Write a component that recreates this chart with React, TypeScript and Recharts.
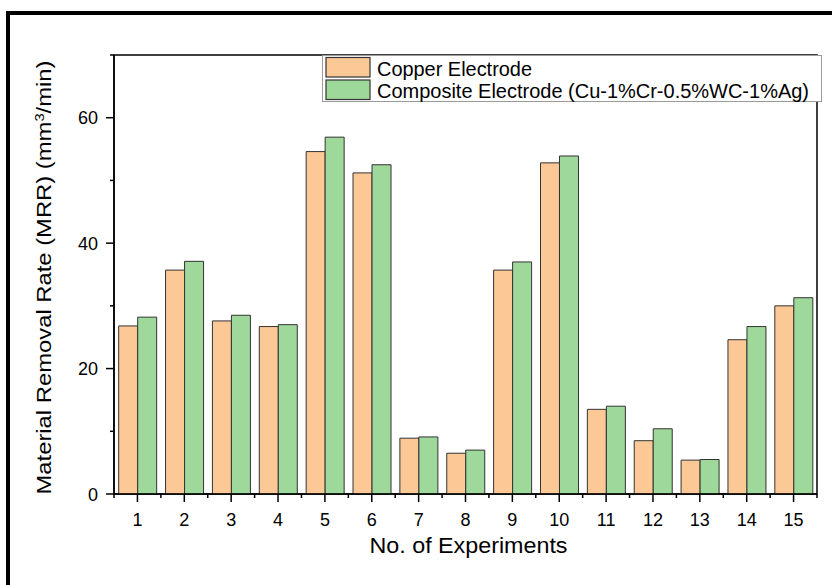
import React from 'react';
import { BarChart, Bar, XAxis, YAxis, Legend, ReferenceArea } from 'recharts';

const experiments = ['1', '2', '3', '4', '5', '6', '7', '8', '9', '10', '11', '12', '13', '14', '15'];
const copperMRR = [26.8, 35.7, 27.6, 26.7, 54.6, 51.2, 8.9, 6.5, 35.7, 52.8, 13.5, 8.5, 5.4, 24.6, 30.0];
const compositeMRR = [28.2, 37.1, 28.5, 27.0, 56.9, 52.5, 9.1, 7.0, 37.0, 53.9, 14.0, 10.4, 5.5, 26.7, 31.3];
const yTicks = [0, 10, 20, 30, 40, 50, 60, 70];
const yLabeledTicks = [0, 20, 40, 60];
const seriesNames = ['Copper Electrode', 'Composite Electrode (Cu-1%Cr-0.5%WC-1%Ag)'];
const seriesColors = ['#FCC896', '#9ED89A'];
const xTitle = 'No. of Experiments';

const data = experiments.map((e, i) => ({ exp: e, copper: copperMRR[i], composite: compositeMRR[i] }));

const W = 832;
const H = 585;
const M = { top: 55, right: 15, bottom: 31, left: 0 };
const Y_AXIS_W = 114;
const X_AXIS_H = 60;
const PLOT_W = W - M.left - M.right - Y_AXIS_W;
const BAND = PLOT_W / experiments.length;
const FONT = '"Liberation Sans", Arial, sans-serif';

const YTick = (props: any) => {
  const { x, y, payload } = props;
  const v = payload.value;
  const major = yLabeledTicks.includes(v);
  return (
    <g>
      <line x1={x - (major ? 8 : 4)} x2={x} y1={y} y2={y} stroke="#000" strokeWidth={1.5} />
      {major && (
        <text x={x - 16} y={y + 6.5} textAnchor="end" fontSize={18} fontFamily={FONT} fill="#000">
          {v}
        </text>
      )}
    </g>
  );
};

const XTick = (props: any) => {
  const { x, y, payload, index } = props;
  return (
    <g>
      <line x1={x} x2={x} y1={y} y2={y + 8} stroke="#000" strokeWidth={1.5} />
      <line x1={x + BAND / 2} x2={x + BAND / 2} y1={y} y2={y + 4} stroke="#000" strokeWidth={1.5} />
      {index === 0 && (
        <line x1={x - BAND / 2} x2={x - BAND / 2} y1={y} y2={y + 4} stroke="#000" strokeWidth={1.5} />
      )}
      <text x={x} y={y + 32} textAnchor="middle" fontSize={18} fontFamily={FONT} fill="#000">
        {payload.value}
      </text>
    </g>
  );
};

const XTitle = (props: any) => {
  const vb = props.viewBox || { x: Y_AXIS_W, y: H - M.bottom - X_AXIS_H, width: PLOT_W };
  return (
    <text
      x={vb.x + vb.width / 2 + 3}
      y={vb.y + 59}
      textAnchor="middle"
      fontSize={22}
      fontFamily={FONT}
      fill="#000"
      textLength={198}
      lengthAdjust="spacingAndGlyphs"
    >
      {xTitle}
    </text>
  );
};

const YTitle = (props: any) => {
  const vb = props.viewBox || { x: 0, y: M.top, width: Y_AXIS_W, height: 439 };
  const cx = 51;
  const cy = vb.y + vb.height / 2 + 3;
  return (
    <text
      x={cx}
      y={cy}
      transform={`rotate(-90, ${cx}, ${cy})`}
      textAnchor="middle"
      fontSize={21}
      fontFamily={FONT}
      fill="#000"
      textLength={434}
      lengthAdjust="spacingAndGlyphs"
    >
      Material Removal Rate (MRR) (mm
      <tspan baselineShift="super" fontSize={13}>3</tspan>
      /min)
    </text>
  );
};

const LegendBox = () => {
  const lengths = [155, 432];
  return (
    <svg width={500} height={47} style={{ display: 'block' }}>
      <rect x={0.5} y={0.5} width={499} height={46} fill="#fff" stroke="#9a9a9a" strokeWidth={1} />
      {seriesNames.map((n, i) => (
        <g key={n}>
          <rect x={4} y={2.5 + i * 22.5} width={44} height={19.5} fill={seriesColors[i]} stroke="#333" strokeWidth={1.2} />
          <text
            x={55}
            y={20.5 + i * 22.7}
            fontSize={19.5}
            fontFamily={FONT}
            fill="#000"
            textLength={lengths[i]}
            lengthAdjust="spacingAndGlyphs"
          >
            {n}
          </text>
        </g>
      ))}
    </svg>
  );
};

export default function App() {
  return (
    <div style={{ position: 'absolute', left: 0, top: 0, width: W, height: H, background: '#fff' }}>
      <div
        style={{
          position: 'absolute',
          left: 6,
          top: 11,
          right: 0,
          bottom: 0,
          borderTop: '4px solid #000',
          borderLeft: '4px solid #000',
        }}
      />
      <div style={{ position: 'absolute', left: 0, top: 0 }}>
        <BarChart width={W} height={H} data={data} margin={M} barCategoryGap="10%" barGap={0}>
          <XAxis
            dataKey="exp"
            height={X_AXIS_H}
            tickSize={0}
            tickMargin={0}
            tick={<XTick />}
            axisLine={{ stroke: '#000', strokeWidth: 1.5 }}
            interval={0}
            label={<XTitle />}
          />
          <YAxis
            width={Y_AXIS_W}
            domain={[0, 70]}
            ticks={yTicks}
            interval={0}
            tickSize={0}
            tickMargin={0}
            tick={<YTick />}
            axisLine={{ stroke: '#000', strokeWidth: 1.5 }}
            label={<YTitle />}
          />
          <ReferenceArea y1={0} y2={70} fill="none" stroke="#000" strokeWidth={1.5} ifOverflow="visible" />
          <Bar dataKey="copper" name={seriesNames[0]} fill={seriesColors[0]} stroke="#333" strokeWidth={1} isAnimationActive={false} />
          <Bar dataKey="composite" name={seriesNames[1]} fill={seriesColors[1]} stroke="#333" strokeWidth={1} isAnimationActive={false} />
          <Legend
            layout="vertical"
            verticalAlign="middle"
            align="center"
            content={<LegendBox />}
            wrapperStyle={{ left: 322, top: 55, width: 500, height: 47 }}
          />
        </BarChart>
      </div>
    </div>
  );
}
